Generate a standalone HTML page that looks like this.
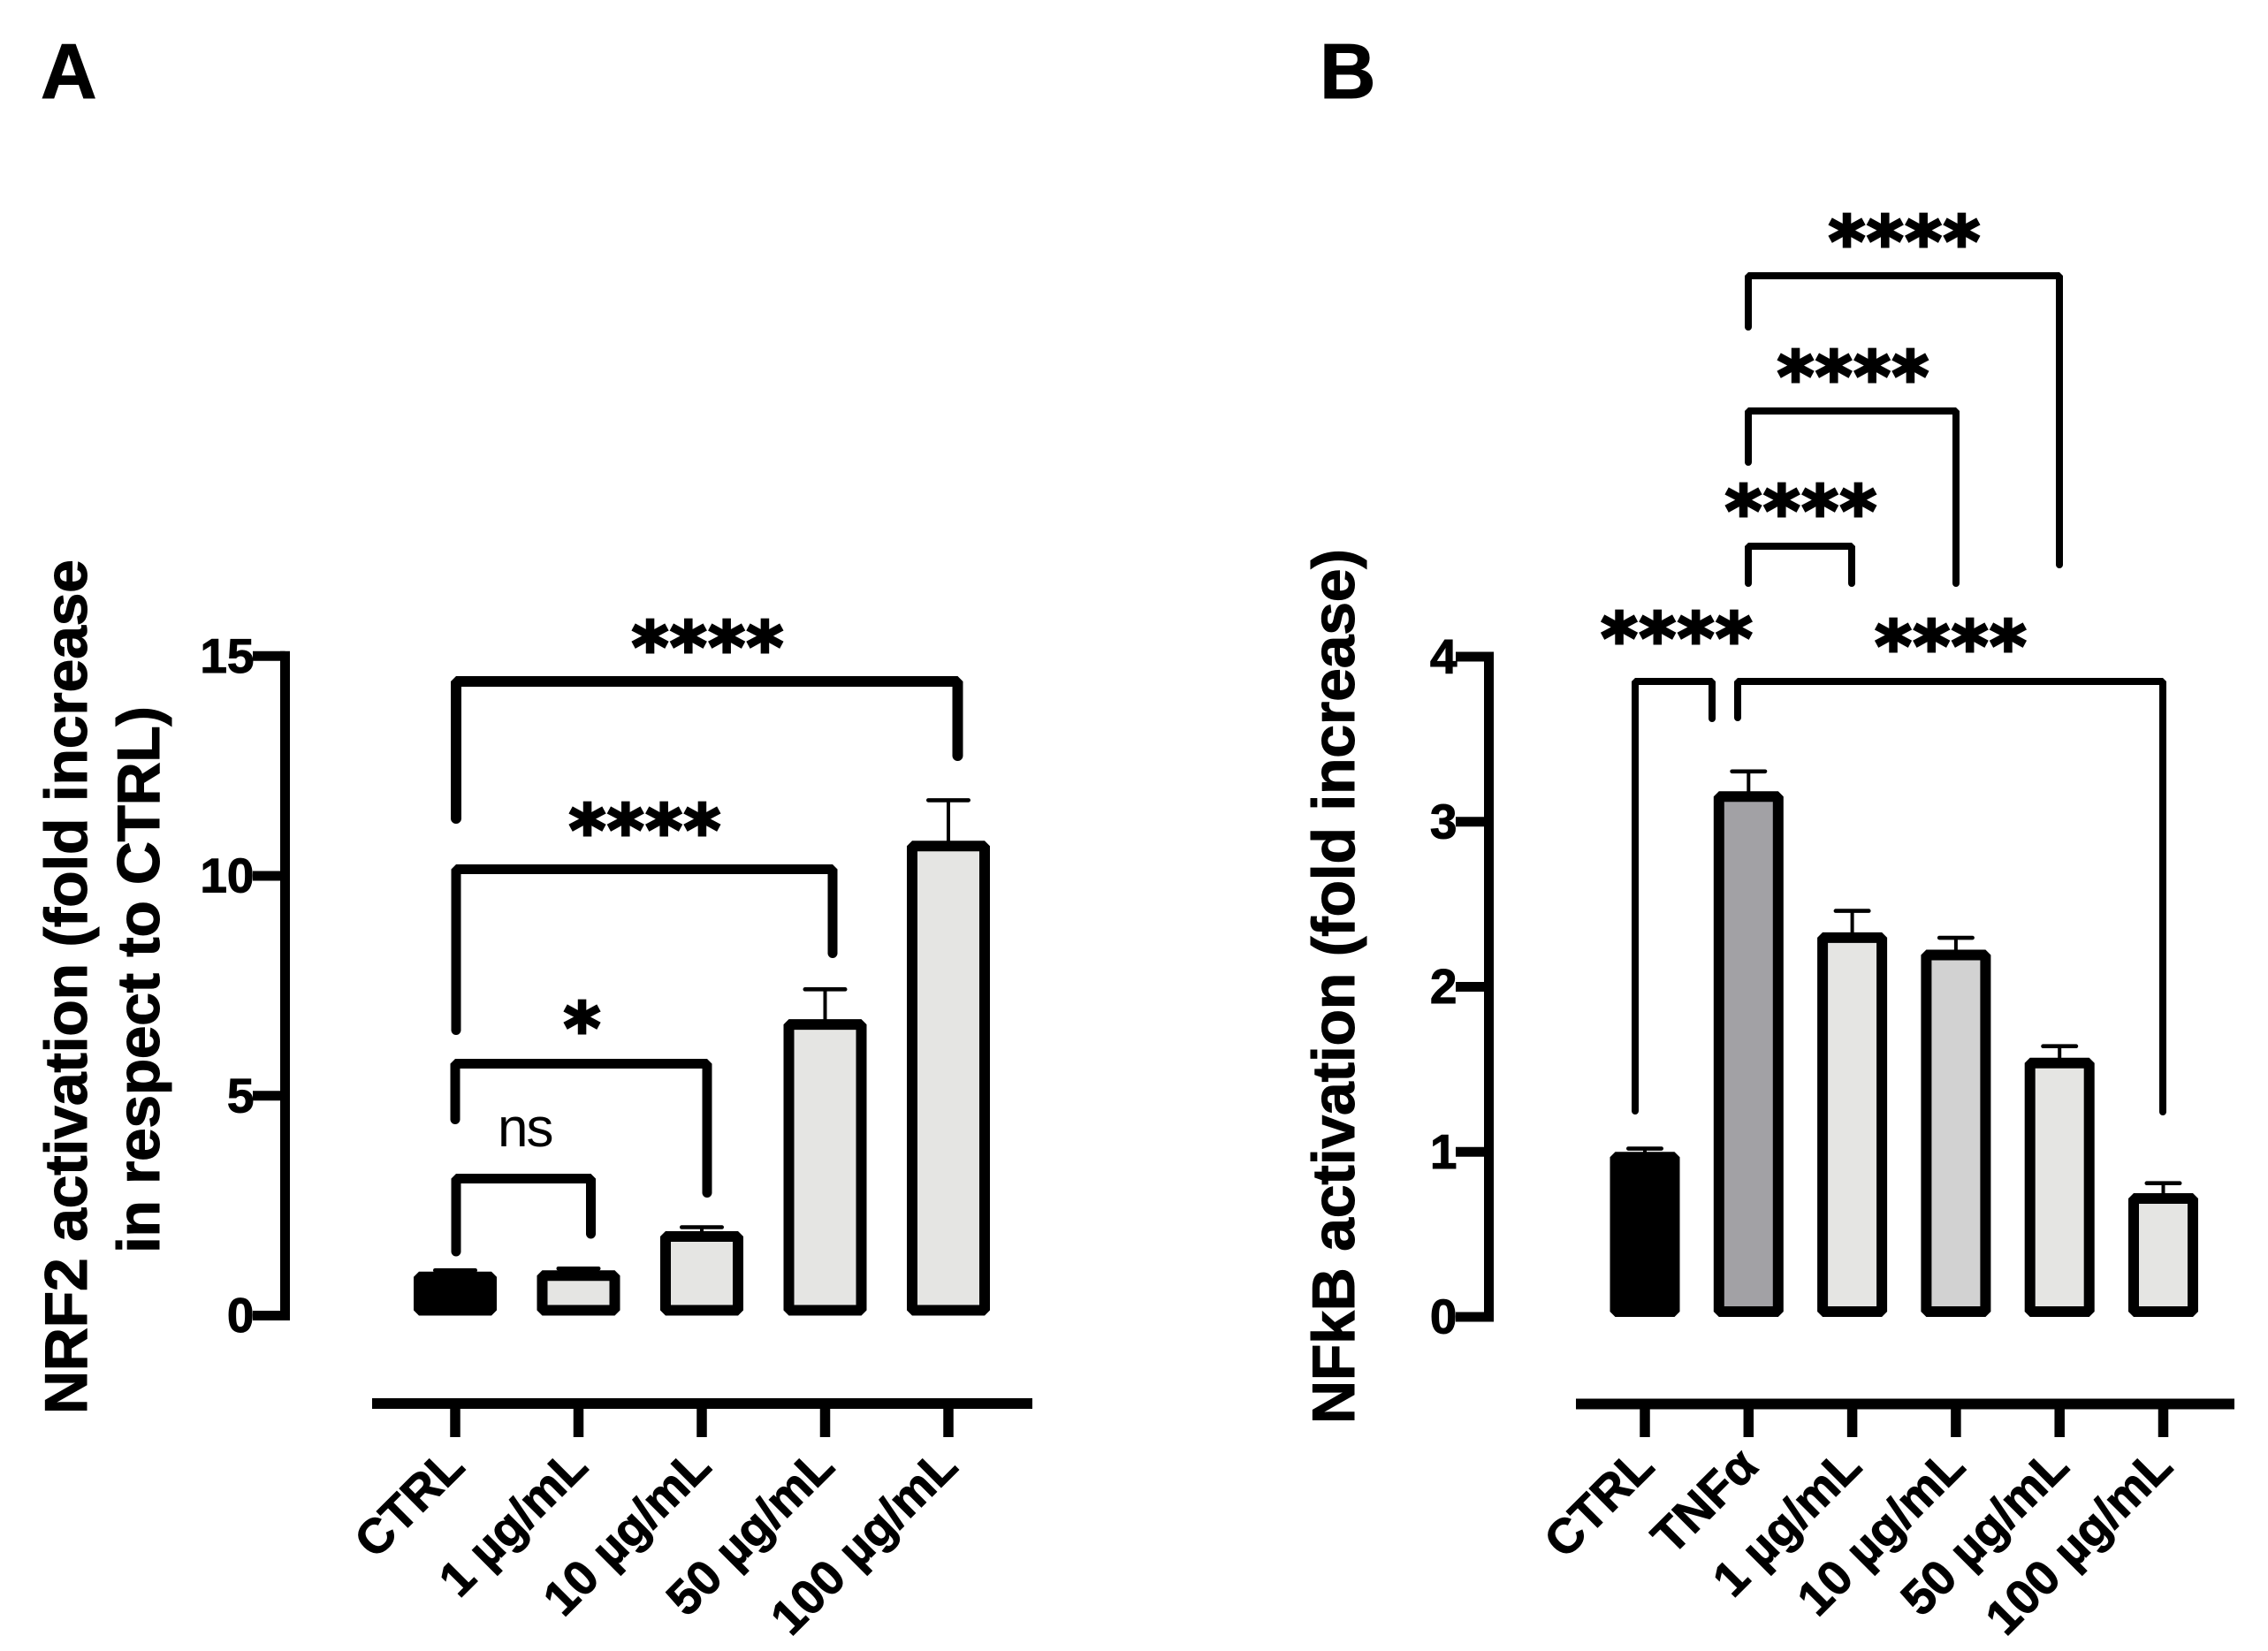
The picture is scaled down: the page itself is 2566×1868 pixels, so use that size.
<!DOCTYPE html>
<html lang="en">
<head>
<meta charset="utf-8">
<title>NRF2 and NFkB activation</title>
<style>
html,body{margin:0;padding:0;background:#fff;}
svg{display:block;}
text{font-family:"Liberation Sans",sans-serif;fill:#000;}
.title{font-weight:700;font-size:68px;stroke:#000;stroke-width:1;}
.panel{font-weight:700;font-size:88px;stroke:#000;stroke-width:1;}
.tick{font-weight:700;font-size:55px;stroke:#000;stroke-width:1;}
.stars{font-family:"DejaVu Sans",sans-serif;font-weight:700;font-size:79px;letter-spacing:2px;text-anchor:middle;stroke:#000;stroke-width:3;}
.br{fill:none;stroke:#000;stroke-linejoin:bevel;stroke-linecap:round;}
</style>
</head>
<body>
<svg id="figure" xmlns="http://www.w3.org/2000/svg" width="2566" height="1868" viewBox="0 0 2566 1868">
  <rect x="0" y="0" width="2566" height="1868" fill="#fff"/>
  <text class="panel" x="46" y="111">A</text>
  <text class="panel" x="1493" y="111">B</text>

  <g id="panelA"></g>
  <g id="panelB"></g>

  <text class="title" transform="translate(98,1600) rotate(-90)" textLength="967" lengthAdjust="spacing">NRF2 activation (fold increase</text>
  <text class="title" transform="translate(180,1418) rotate(-90)" textLength="619" lengthAdjust="spacing">in respect to CTRL)</text>
  <text class="title" transform="translate(1532,1611) rotate(-90)" textLength="990" lengthAdjust="spacing">NFkB activation (fold increase)</text>

  <g>
    <path class="br" stroke-width="11" d="M516 1416V1333.5H668.5V1396"/>
    <path class="br" stroke-width="11" d="M515 1266.5V1203.5H800V1349.5"/>
    <path class="br" stroke-width="11" d="M516 1165.5V983.5H942V1078.5"/>
    <path class="br" stroke-width="12" d="M516 926V771H1083.5V855"/>
    <text x="563" y="1297" font-size="62" letter-spacing="-2">ns</text>
    <text class="stars" x="659.5" y="1191">*</text>
    <text class="stars" x="730.5" y="967">****</text>
    <text class="stars" x="801.5" y="760">****</text>
  </g>

  <g>
    <path class="br" stroke-width="8" d="M1850 1257V771H1937V813"/>
    <path class="br" stroke-width="8" d="M1966 812V771H2447V1258"/>
    <path class="br" stroke-width="8" d="M1978 660V618H2095V660"/>
    <path class="br" stroke-width="8" d="M1978 523V465H2213V660"/>
    <path class="br" stroke-width="8" d="M1978 370V312H2330V639"/>
    <text class="stars" x="2155.5" y="301">****</text>
    <text class="stars" x="2097.5" y="454">****</text>
    <text class="stars" x="2038.5" y="606">****</text>
    <text class="stars" x="1898" y="750">****</text>
    <text class="stars" x="2208" y="759">****</text>
  </g>
</svg>

<script>
// Panel A data
const categoriesA = ['CTRL', '1 µg/mL', '10 µg/mL', '50 µg/mL', '100 µg/mL'];
const meansA = [1.0, 1.03, 1.92, 6.74, 10.8];
const errorsA = [0.03, 0.04, 0.09, 0.68, 0.92];
const yTicksA = [0, 5, 10, 15];

// Panel B data
const categoriesB = ['CTRL', 'TNFα', '1 µg/mL', '10 µg/mL', '50 µg/mL', '100 µg/mL'];
const meansB = [1.0, 3.185, 2.33, 2.225, 1.57, 0.75];
const errorsB = [0.02, 0.12, 0.13, 0.072, 0.07, 0.06];
const yTicksB = [0, 1, 2, 3, 4];

// Bar colours
const fillsA = ['#000000', '#e5e5e3', '#e5e5e3', '#e5e5e3', '#e5e5e3'];
const fillsB = ['#000000', '#a2a1a5', '#e5e5e3', '#d2d2d2', '#e5e5e3', '#e5e5e3'];

const NS = 'http://www.w3.org/2000/svg';

function make(tag, parent, attrs) {
  const el = document.createElementNS(NS, tag);
  for (const k in attrs) el.setAttribute(k, attrs[k]);
  parent.appendChild(el);
  return el;
}

function drawPanel(root, categories, means, errors, yTicks, fills, geo) {
  const xPos = i => geo.x0 + i * geo.step;
  const yPos = v => geo.y0 - v * geo.unit;
  const sw = 12;

  // y axis
  const yAxis = make('line', root, {
    x1: geo.axisX, x2: geo.axisX,
    y1: yPos(yTicks[yTicks.length - 1]) - 5.5, y2: yPos(yTicks[0]) + 5.5,
    stroke: '#000', 'stroke-width': 11
  });
  
  

  yTicks.forEach(t => {
    const tick = make('line', root, {
      x1: geo.tickLeft, x2: geo.axisX, y1: yPos(t), y2: yPos(t),
      stroke: '#000', 'stroke-width': 11
    });
    
    

    const label = make('text', root, {
      x: geo.tickLeft + 1.5, y: yPos(t) + 18.5, 'text-anchor': 'end', class: 'tick'
    });
    label.textContent = String(t);
    
    
  });

  // x axis
  const xAxis = make('line', root, {
    x1: geo.xAxisStart, x2: geo.xAxisEnd, y1: geo.xAxisY, y2: geo.xAxisY,
    stroke: '#000', 'stroke-width': 12
  });
  
  

  categories.forEach((c, i) => {
    const cx = xPos(i);

    const tick = make('line', root, {
      x1: cx, x2: cx, y1: geo.xAxisY, y2: 1626,
      stroke: '#000', 'stroke-width': 11.5
    });
    
    

    const label = make('text', root, {
      transform: 'translate(' + (cx + 13) + ',1661.7) rotate(-45)',
      'text-anchor': 'end', class: 'tick'
    });
    label.textContent = c;
    
    

    // error bar
    const top = yPos(means[i]);
    const errY = yPos(means[i] + errors[i]);
    const stem = make('line', root, {
      x1: cx, x2: cx, y1: errY, y2: top + 2,
      stroke: '#000', 'stroke-width': 4
    });
    
    

    const cap = make('line', root, {
      x1: cx - geo.capHalf, x2: cx + geo.capHalf, y1: errY, y2: errY,
      stroke: '#000', 'stroke-width': 4.6, 'stroke-linecap': 'round'
    });
    
    

    // bar: value maps to the outer top edge, stroke is inside the bar
    const bar = make('rect', root, {
      x: cx - geo.barWidth / 2 + sw / 2,
      y: top + sw / 2,
      width: geo.barWidth - sw,
      height: Math.max(0, yPos(0) - top - sw),
      fill: fills[i], stroke: '#000', 'stroke-width': sw, 'stroke-linejoin': 'bevel'
    });
    
    
  });
}

drawPanel(document.getElementById('panelA'), categoriesA, meansA, errorsA, yTicksA, fillsA, {
  x0: 515, step: 139.5, y0: 1488.5, unit: 49.75, axisX: 322.5, tickLeft: 286,
  xAxisStart: 421, xAxisEnd: 1168, xAxisY: 1588, barWidth: 94, capHalf: 22.7
});
drawPanel(document.getElementById('panelB'), categoriesB, meansB, errorsB, yTicksB, fillsB, {
  x0: 1861, step: 117.3, y0: 1490, unit: 186.75, axisX: 1684.5, tickLeft: 1647,
  xAxisStart: 1783, xAxisEnd: 2528, xAxisY: 1588.5, barWidth: 79, capHalf: 18.7
});
</script>
</body>
</html>
